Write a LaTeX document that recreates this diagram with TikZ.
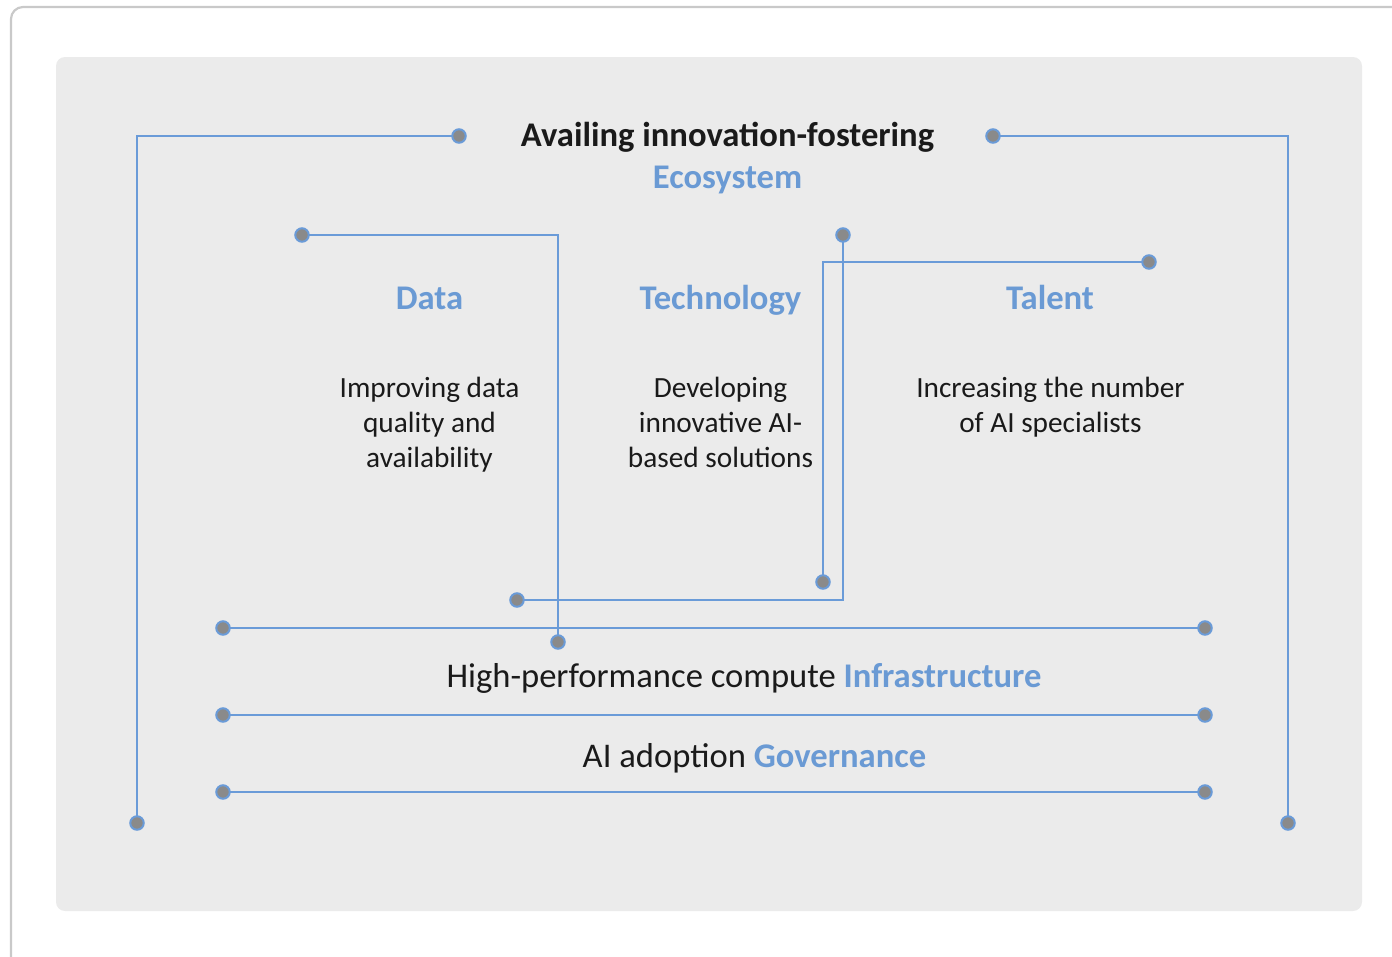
\documentclass[tikz,border=0pt]{standalone}
\usepackage{fontspec}
\setmainfont{Carlito}
\definecolor{bggray}{HTML}{EBEBEB}
\definecolor{framegray}{HTML}{C9C9C9}
\definecolor{lineblue}{HTML}{6A9BD8}
\definecolor{textblue}{HTML}{6A9AD4}
\definecolor{dotgray}{HTML}{8A8A8A}
\definecolor{textblack}{HTML}{1A1A1A}
\tikzset{
  conn/.style={draw=lineblue, line width=2.4pt},
  dotnode/.style={circle, fill=dotgray, draw=lineblue, line width=2pt, minimum size=13.5pt, inner sep=0pt},
  headbold/.style={font=\fontsize{34.6}{40}\selectfont\bfseries, text=textblack, anchor=base, inner sep=0pt},
  headblue/.style={font=\fontsize{34.6}{40}\selectfont\bfseries, text=textblue, anchor=base, inner sep=0pt},
  body/.style={font=\fontsize{29.3}{35}\selectfont, text=textblack, anchor=base, inner sep=0pt},
  bottom/.style={font=\fontsize{34.6}{40}\selectfont, text=textblack, anchor=base, inner sep=0pt},
}
\begin{document}
\begin{tikzpicture}[x=1pt, y=-1pt]
\useasboundingbox (0,0) rectangle (1392,956);
% outer frame
\draw[framegray, line width=2.2pt, rounded corners=12pt] (11,990) -- (11,7) -- (1430,7);
% panel
\fill[bggray, rounded corners=9pt] (56,57) rectangle (1362,911);

% coordinates of dots
\coordinate (e1) at (459,136);
\coordinate (e2) at (137,823);
\coordinate (e3) at (993,136);
\coordinate (e4) at (1288,823);
\coordinate (d1) at (302,235);
\coordinate (d2) at (558,642);
\coordinate (t1) at (843,235);
\coordinate (t2) at (517,600);
\coordinate (a1) at (1149,262);
\coordinate (a2) at (823,582);
\coordinate (h1) at (223,628);
\coordinate (h2) at (1205,628);
\coordinate (h3) at (223,715);
\coordinate (h4) at (1205,715);
\coordinate (h5) at (223,792);
\coordinate (h6) at (1205,792);

% connectors
\draw[conn] (e1) -| (e2);
\draw[conn] (e3) -| (e4);
\draw[conn] (d1) -| (d2);
\draw[conn] (t1) |- (t2);
\draw[conn] (a1) -| (a2);
\draw[conn] (h1) -- (h2);
\draw[conn] (h3) -- (h4);
\draw[conn] (h5) -- (h6);

% dots
\foreach \p in {e1,e2,e3,e4,d1,d2,t1,t2,a1,a2,h1,h2,h3,h4,h5,h6}
  \node[dotnode] (n\p) at (\p) {};

% texts
\node[headbold] (title) at (727.5,146) {Availing innovation-fostering};
\node[headblue] (eco) at (727.5,188) {Ecosystem};
\node[headblue] (data) at (429.5,309) {Data};
\node[headblue] (tech) at (720.5,309) {Technology};
\node[headblue] (talent) at (1050,309) {Talent};

\node[body] (dl1) at (429.5,397) {Improving data};
\node[body] (dl2) at (429.5,432) {quality and};
\node[body] (dl3) at (429.5,467) {availability};
\node[body] (tl1) at (720.5,397) {Developing};
\node[body] (tl2) at (720.5,432) {innovative AI-};
\node[body] (tl3) at (720.5,467) {based solutions};
\node[body] (al1) at (1050.5,397) {Increasing the number};
\node[body] (al2) at (1050.5,432) {of AI specialists};

\node[bottom] (infra) at (744,687) {High-performance compute \textcolor{textblue}{\bfseries Infrastructure}};
\node[bottom] (gov) at (754.5,767) {AI adoption \textcolor{textblue}{\bfseries Governance}};
\end{tikzpicture}
\end{document}
